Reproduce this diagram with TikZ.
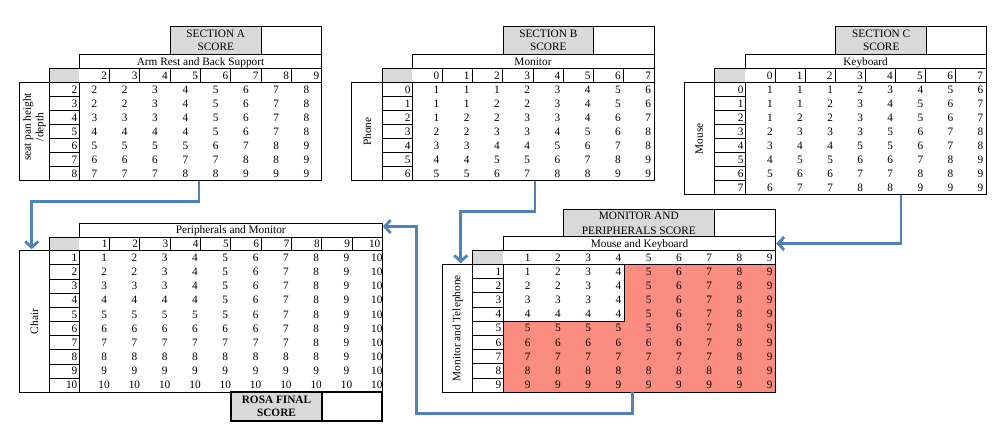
\documentclass[tikz,border=0pt]{standalone}
\usepackage{fontspec}
\setmainfont{Liberation Serif}
\usetikzlibrary{arrows.meta}
\definecolor{hdrgray}{HTML}{D9D9D9}
\definecolor{hotcell}{RGB}{250,140,128}
\definecolor{flowblue}{RGB}{79,129,189}
\tikzset{
  gline/.style={draw=black,line width=0.9pt},
  txt/.style={font=\fontsize{11.3}{12.5}\selectfont, inner sep=0pt, outer sep=0pt, anchor=base},
  txtE/.style={txt, anchor=base east},
  vlabel/.style={txt, anchor=center, rotate=90, align=center},
  flow/.style={draw=flowblue, line width=2.8pt, -{Straight Barb[length=6pt,width=13pt]}},
}
% #1 Lx, #2 Hx, #3 Dx, #4 Rx, #5 Ty, #6 Hy, #7 Dy, #8 By, #9 nrows
\newcommand\tframe[9]{%
  \fill[hdrgray] (#2,#6) rectangle (#3,#7);
  \draw[gline] (#3,#5) rectangle (#4,#6);
  \draw[gline] (#2,#6) rectangle (#4,#7);
  \draw[gline] (#1,#7) rectangle (#4,#8);
  \draw[gline] (#2,#7) -- (#2,#8) (#3,#7) -- (#3,#8);
  \foreach \k in {1,...,#9} {\draw[gline] (#2,{#7+\k*(#8-#7)/#9}) -- (#3,{#7+\k*(#8-#7)/#9});}
}
\begin{document}
\begin{tikzpicture}[x=1pt,y=-1pt]
\useasboundingbox (0,0) rectangle (1008,427);

% ================= SECTION A =================
\tframe{19.3}{49.3}{79.3}{321.7}{54}{68.5}{82.7}{180.7}{7}
\fill[hdrgray] (170.7,26) rectangle (261,54);
\draw[gline] (170.7,26) rectangle (321.7,54);
\draw[gline] (261,26) -- (261,54);
\node[txt] (A-s1) at (215.8,37.3) {SECTION A};
\node[txt] (A-s2) at (215.8,51) {SCORE};
\node[txt] (A-t) at (200.5,65.3) {Arm Rest and Back Support};
\foreach \j in {1,...,7} \draw[gline] ({79.3+\j*30.3},68.5) -- ({79.3+\j*30.3},82.7);
\foreach \h [count=\j] in {2,...,9} \node[txtE] (A-h\j) at ({79.3+\j*30.3-2.5},79.3) {\h};
\foreach \h [count=\r] in {2,...,8} \node[txtE] (A-r\r) at (77.3,{82.7+(\r-0.5)*14+3.7}) {\h};
\foreach \row [count=\r] in {{2,2,3,4,5,6,7,8},{2,2,3,4,5,6,7,8},{3,3,3,4,5,6,7,8},{4,4,4,4,5,6,7,8},{5,5,5,5,6,7,8,9},{6,6,6,7,7,8,8,9},{7,7,7,8,8,9,9,9}}
  \foreach \v [count=\c] in \row
    \node[txt] (A-\r-\c) at ({79.3+(\c-0.5)*30.3},{82.7+(\r-0.5)*14+3.7}) {\v};
\node[vlabel] (A-lbl) at (34.3,127) {seat pan height\\/depth};

% ================= SECTION B =================
\tframe{351.7}{382.7}{412}{654}{54}{68.5}{82.7}{180.7}{7}
\fill[hdrgray] (503.3,26) rectangle (593.3,54);
\draw[gline] (503.3,26) rectangle (654,54);
\draw[gline] (593.3,26) -- (593.3,54);
\node[txt] (B-s1) at (548.3,37.3) {SECTION B};
\node[txt] (B-s2) at (548.3,51) {SCORE};
\node[txt] (B-t) at (533,65.3) {Monitor};
\foreach \j in {1,...,7} \draw[gline] ({412+\j*30.25},68.5) -- ({412+\j*30.25},82.7);
\foreach \h [count=\j] in {0,...,7} \node[txtE] (B-h\j) at ({412+\j*30.25-3},79.3) {\h};
\foreach \h [count=\r] in {0,...,6} \node[txtE] (B-r\r) at (410.5,{82.7+(\r-0.5)*14+3.7}) {\h};
\foreach \row [count=\r] in {{1,1,1,2,3,4,5,6},{1,1,2,2,3,4,5,6},{1,2,2,3,3,4,6,7},{2,2,3,3,4,5,6,8},{3,3,4,4,5,6,7,8},{4,4,5,5,6,7,8,9},{5,5,6,7,8,8,9,9}}
  \foreach \v [count=\c] in \row
    \node[txt] (B-\r-\c) at ({412+\c*30.25-5.8},{82.7+(\r-0.5)*14+3.7}) {\v};
\node[vlabel] (B-lbl) at (367.2,131.7) {Phone};

% ================= SECTION C =================
\tframe{684.3}{714.3}{745.3}{986}{54}{68.5}{82.7}{194.7}{8}
\fill[hdrgray] (835.7,26) rectangle (926.7,54);
\draw[gline] (835.7,26) rectangle (986,54);
\draw[gline] (926.7,26) -- (926.7,54);
\node[txt] (C-s1) at (881.2,37.3) {SECTION C};
\node[txt] (C-s2) at (881.2,51) {SCORE};
\node[txt] (C-t) at (865.6,65.3) {Keyboard};
\foreach \j in {1,...,7} \draw[gline] ({745.3+\j*30.09},68.5) -- ({745.3+\j*30.09},82.7);
\foreach \h [count=\j] in {0,...,7} \node[txtE] (C-h\j) at ({745.3+\j*30.09-3},79.3) {\h};
\foreach \h [count=\r] in {0,...,7} \node[txtE] (C-r\r) at (743.5,{82.7+(\r-0.5)*14+3.7}) {\h};
\foreach \row [count=\r] in {{1,1,1,2,3,4,5,6},{1,1,2,3,4,5,6,7},{1,2,2,3,4,5,6,7},{2,3,3,3,5,6,7,8},{3,4,4,5,5,6,7,8},{4,5,5,6,6,7,8,9},{5,6,6,7,7,8,8,9},{6,7,7,8,8,9,9,9}}
  \foreach \v [count=\c] in \row
    \node[txt] (C-\r-\c) at ({745.3+\c*30.09-5.5},{82.7+(\r-0.5)*14+3.7}) {\v};
\node[vlabel] (C-lbl) at (699.3,138.7) {Mouse};

% ================= PERIPHERALS AND MONITOR (final) =================
\tframe{19.3}{49.3}{79.3}{382.3}{223.3}{237.3}{250.7}{392.3}{10}
\node[txt] (P-t) at (230.8,234) {Peripherals and Monitor};
\foreach \j in {1,...,9} \draw[gline] ({79.3+\j*30.3},237.3) -- ({79.3+\j*30.3},250.7);
\foreach \h [count=\j] in {1,...,10} \node[txtE] (P-h\j) at ({79.3+\j*30.3-2},247.7) {\h};
\foreach \h [count=\r] in {1,...,10} \node[txtE] (P-r\r) at (77.3,{250.7+(\r-0.5)*14.16+3.7}) {\h};
\foreach \r in {1,...,10}
  \foreach \c in {1,...,10} {
    \pgfmathtruncatemacro\v{max(\r,\c)}
    \node[txt] (P-\r-\c) at ({79.3+\c*30.3-5.5},{250.7+(\r-0.5)*14.16+3.7}) {\v};
  }
\node[vlabel] (P-lbl) at (34.3,321.5) {Chair};
\fill[hdrgray] (231,392.3) rectangle (322,420.7);
\draw[line width=1.8pt] (231,392.3) rectangle (382.3,420.7);
\draw[line width=1.8pt] (322,392.3) -- (322,420.7);
\node[txt,font=\fontsize{11.3}{12.5}\selectfont\bfseries] (R-s1) at (276.5,403.3) {ROSA FINAL};
\node[txt,font=\fontsize{11.3}{12.5}\selectfont\bfseries] (R-s2) at (276.5,416.7) {SCORE};

% ================= MONITOR AND PERIPHERALS =================
\fill[hotcell] (624.4,264.3) -- (775.7,264.3) -- (775.7,392.3) -- (503.3,392.3) -- (503.3,321.2) -- (624.4,321.2) -- cycle;
\tframe{442.7}{472.7}{503.3}{775.7}{236.7}{250.7}{264.3}{392.3}{9}
\draw[line width=1.3pt] (503.3,264.3) rectangle (624.4,321.2);
\fill[hdrgray] (563.3,209.3) rectangle (714.3,236.7);
\draw[gline] (563.3,209.3) rectangle (775.7,236.7);
\draw[gline] (714.3,209.3) -- (714.3,236.7);
\node[txt] (M-s1) at (638.8,220) {MONITOR AND};
\node[txt] (M-s2) at (638.8,234.3) {PERIPHERALS SCORE};
\node[txt] (M-t) at (639.5,247.6) {Mouse and Keyboard};
\foreach \h [count=\j] in {1,...,9} \node[txt] (M-h\j) at ({503.3+\j*30.27-6},261.2) {\h};
\foreach \h [count=\r] in {1,...,9} \node[txtE] (M-r\r) at (501.3,{264.3+(\r-0.5)*14.22+3.7}) {\h};
\foreach \r in {1,...,9}
  \foreach \c in {1,...,9} {
    \pgfmathtruncatemacro\v{max(\r,\c)}
    \node[txt] (M-\r-\c) at ({503.3+\c*30.27-6},{264.3+(\r-0.5)*14.22+3.7}) {\v};
  }
\node[vlabel] (M-lbl) at (457.7,328.3) {Monitor and Telephone};

% ================= CONNECTORS =================
\coordinate (A-out) at (199,180.7);
\coordinate (P-in) at (31.7,249.3);
\coordinate (B-out) at (535,180.7);
\coordinate (M-in) at (460.7,263.3);
\coordinate (C-out) at (901,194.7);
\coordinate (M-in2) at (776.2,243.5);
\coordinate (M-out) at (632.3,392.3);
\coordinate (M-bend) at (416.5,226.5);
\coordinate (P-in2) at (382.8,226.5);
\draw[flow] (A-out) -- ++(0,21) -| (P-in);
\draw[flow] (B-out) -- ++(0,31) -| (M-in);
\draw[flow] (C-out) |- (M-in2);
\draw[flow] (M-out) -- ++(0,21) -| (M-bend) -- (P-in2);
\end{tikzpicture}
\end{document}
